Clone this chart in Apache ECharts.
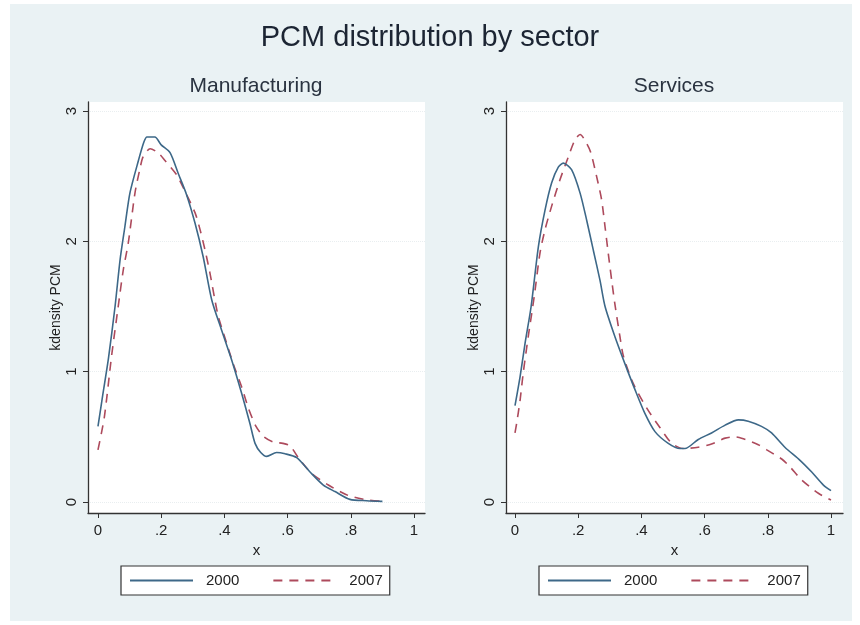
<!DOCTYPE html>
<html>
<head>
<meta charset="utf-8">
<script src="https://cdn.jsdelivr.net/npm/echarts@6/dist/echarts.min.js"></script>
<style>
html,body{margin:0;padding:0;background:#ffffff;}
#chart{width:860px;height:625px;}
</style>
</head>
<body>
<div id="chart"></div>
<script>
// ---- data ----
const mainTitle = 'PCM distribution by sector';
const panelTitles = ['Manufacturing', 'Services'];
const seriesNames = ['2000', '2007'];
const xTicks = [0, 0.2, 0.4, 0.6, 0.8, 1];
const yTicks = [0, 1, 2, 3];

const mfgX2000 = [0.00,0.015,0.033,0.054,0.07,0.085,0.101,0.128,0.145,0.155,0.18,0.20,0.228,0.254,0.28,0.307,0.333,0.36,0.391,0.423,0.455,0.481,0.497,0.515,0.534,0.565,0.592,0.629,0.671,0.713,0.75,0.797,0.85,0.90];
const mfgY2000 = [0.58,0.82,1.10,1.50,1.86,2.11,2.37,2.62,2.76,2.80,2.80,2.74,2.68,2.52,2.36,2.14,1.88,1.55,1.32,1.09,0.83,0.60,0.45,0.38,0.35,0.38,0.37,0.34,0.23,0.13,0.08,0.02,0.01,0.005];

const mfgX2007 = [0.00,0.02,0.043,0.064,0.08,0.096,0.117,0.133,0.143,0.165,0.19,0.212,0.249,0.28,0.307,0.323,0.339,0.354,0.37,0.381,0.407,0.428,0.455,0.476,0.50,0.525,0.555,0.585,0.608,0.634,0.676,0.729,0.792,0.855,0.90];
const mfgY2007 = [0.40,0.65,1.12,1.50,1.78,1.99,2.37,2.56,2.65,2.71,2.68,2.62,2.51,2.36,2.22,2.09,1.93,1.76,1.55,1.42,1.22,1.06,0.88,0.72,0.58,0.50,0.46,0.45,0.43,0.34,0.22,0.13,0.05,0.015,0.005];

const srvX2000 = [0.00,0.016,0.032,0.051,0.074,0.095,0.116,0.137,0.153,0.179,0.206,0.227,0.248,0.269,0.285,0.316,0.348,0.38,0.411,0.443,0.485,0.522,0.538,0.58,0.622,0.665,0.707,0.738,0.78,0.812,0.854,0.902,0.939,0.976,1.0];
const srvY2000 = [0.74,0.96,1.22,1.50,1.96,2.24,2.45,2.57,2.60,2.55,2.37,2.16,1.93,1.70,1.50,1.27,1.06,0.86,0.68,0.54,0.45,0.41,0.41,0.48,0.53,0.59,0.63,0.62,0.58,0.53,0.42,0.32,0.23,0.13,0.087];

const srvX2007 = [0.00,0.005,0.016,0.026,0.042,0.061,0.079,0.095,0.116,0.142,0.169,0.19,0.206,0.227,0.24,0.258,0.274,0.285,0.295,0.306,0.316,0.332,0.343,0.374,0.417,0.459,0.496,0.533,0.58,0.622,0.665,0.696,0.717,0.77,0.797,0.844,0.87,0.907,0.96,1.0];
const srvY2007 = [0.53,0.60,0.78,0.99,1.27,1.58,1.91,2.09,2.27,2.47,2.65,2.78,2.82,2.75,2.68,2.50,2.32,2.11,1.91,1.70,1.52,1.27,1.12,0.91,0.72,0.57,0.45,0.41,0.42,0.445,0.49,0.50,0.49,0.44,0.40,0.33,0.27,0.17,0.067,0.015];

// ---- build ----
function zip(xs, ys){ return xs.map((x,i)=>[x, ys[i]]); }
const navy = '#3d6888';
const maroon = '#ad4a5c';
const font = 'Liberation Sans, Arial, sans-serif';

const grids = [
  {left: 88, top: 102, width: 337, height: 411},
  {left: 506, top: 102, width: 337, height: 411}
];
const xRanges = [[-0.0316, 1.0348], [-0.0285, 1.038]];
const yRange = [-0.0844, 3.069];

function xFmt(v){
  if (Math.abs(v) < 1e-9) return '0';
  if (Math.abs(v-1) < 1e-9) return '1';
  return String(Math.round(v*10)/10).replace(/^0/, '');
}

const xAxes = grids.map((g,i)=>({
  type:'value', gridIndex:i, min:xRanges[i][0], max:xRanges[i][1],
  name:'x', nameLocation:'middle', nameGap:30,
  nameTextStyle:{fontFamily:font, fontSize:15, color:'#222'},
  axisLine:{show:true, onZero:false, lineStyle:{color:'#333', width:1.3}},
  axisTick:{show:true, length:5, customValues:xTicks, lineStyle:{color:'#333'}},
  axisLabel:{customValues:xTicks, formatter:xFmt, fontFamily:font, fontSize:15, color:'#222', margin:10},
  splitLine:{show:false}
}));
const yAxes = grids.map((g,i)=>({
  type:'value', gridIndex:i, min:yRange[0], max:yRange[1],
  name:'kdensity PCM', nameLocation:'middle', nameGap:24, nameRotate:90,
  nameTextStyle:{fontFamily:font, fontSize:14, color:'#222'},
  axisLine:{show:true, onZero:false, lineStyle:{color:'#333', width:1.3}},
  axisTick:{show:true, length:5, customValues:yTicks, lineStyle:{color:'#333'}},
  axisLabel:{customValues:yTicks, rotate:90, fontFamily:font, fontSize:15, color:'#222', margin:9},
  splitLine:{show:true, customValues:yTicks, lineStyle:{color:'#e9eef0', type:'dotted', width:1}}
}));

const panels = [[mfgX2000,mfgY2000,mfgX2007,mfgY2007],[srvX2000,srvY2000,srvX2007,srvY2007]];
const series = [];
panels.forEach((p,i)=>{
  series.push({name:seriesNames[0], type:'line', xAxisIndex:i, yAxisIndex:i, data:zip(p[0],p[1]),
    symbol:'none', smooth:0.25, lineStyle:{color:navy, width:1.6}, itemStyle:{color:navy}, z:3});
  series.push({name:seriesNames[1], type:'line', xAxisIndex:i, yAxisIndex:i, data:zip(p[2],p[3]),
    symbol:'none', smooth:0.25, lineStyle:{color:maroon, width:1.6, type:[9,7]}, itemStyle:{color:maroon}, z:2});
});

const legendBase = {
  data: seriesNames, top:566, itemWidth:63, itemHeight:16, itemGap:33,
  padding:[7,7,7,8], borderColor:'#333', borderWidth:1.2, backgroundColor:'#fff', borderRadius:0,
  itemStyle:{opacity:0},
  textStyle:{fontFamily:font, fontSize:15, color:'#222', padding:[0,0,0,8]}, selectedMode:false
};
const legends = [Object.assign({}, legendBase, {left:121}), Object.assign({}, legendBase, {left:539})];

const chart = echarts.init(document.getElementById('chart'), null, {renderer:'canvas'});
chart.setOption({
  animation:false,
  backgroundColor:'#ffffff',
  graphic:[
    {type:'rect', z:-10, shape:{x:10, y:4, width:842, height:617}, style:{fill:'#eaf2f4'}},
    {type:'text', x:430, y:38, style:{text:mainTitle, align:'center', verticalAlign:'middle', font:'29px ' + font, fill:'#1c2533'}},
    {type:'text', x:256, y:86, style:{text:panelTitles[0], align:'center', verticalAlign:'middle', font:'21px ' + font, fill:'#2a3340'}},
    {type:'text', x:674, y:86, style:{text:panelTitles[1], align:'center', verticalAlign:'middle', font:'21px ' + font, fill:'#2a3340'}}
  ],
  grid: grids.map(g=>Object.assign({show:true, backgroundColor:'#ffffff', borderWidth:0, containLabel:false}, g)),
  xAxis: xAxes,
  yAxis: yAxes,
  legend: legends,
  series: series
});
</script>
</body>
</html>
